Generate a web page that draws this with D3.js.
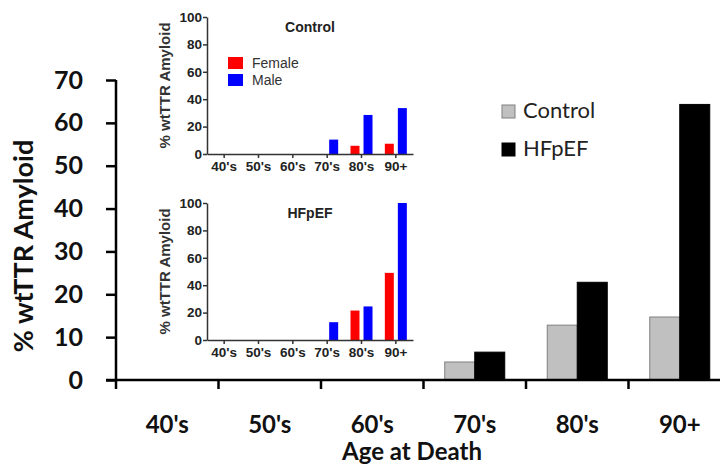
<!DOCTYPE html>
<html lang="en">
<head>
    <meta charset="UTF-8">
    <title>wtTTR Amyloid by Age at Death</title>
    <script src="https://cdnjs.cloudflare.com/ajax/libs/d3/7.8.5/d3.min.js"></script>
    <style>
        body {
            margin: 0;
            background-color: white;
        }
        svg {
            display: block;
        }
    </style>
</head>
<body>
    <div id="plot"></div>

    <script>
        // Main chart data
        const ages = ["40's", "50's", "60's", "70's", "80's", "90+"];
        const controlPct = [0, 0, 0, 4.2, 12.8, 14.7];
        const hfpefPct = [0, 0, 0, 6.5, 22.8, 64.3];
        const mainTicks = [0, 10, 20, 30, 40, 50, 60, 70];

        // Inset data (by sex)
        const controlFemale = [0, 0, 0, 0, 6, 7.5];
        const controlMale = [0, 0, 0, 10.5, 28.5, 33.5];
        const hfpefFemale = [0, 0, 0, 0, 21.5, 49];
        const hfpefMale = [0, 0, 0, 13, 24.5, 100];
        const insetTicks = [0, 20, 40, 60, 80, 100];

        const width = 720, height = 465;

        const svg = d3.select("#plot")
            .append("svg")
                .attr("width", width)
                .attr("height", height);

        // ---------- main chart ----------
        const mainFont = "Lato, 'Open Sans', sans-serif";

        const x = d3.scaleBand()
            .domain(ages)
            .range([116, 731]);

        const y = d3.scaleLinear()
            .domain([0, 70])
            .range([380, 80]);

        const sub = d3.scaleBand()
            .domain(["Control", "HFpEF"])
            .range([-30, 30]);

        const mainData = ages.map((a, i) => ({age: a, Control: controlPct[i], HFpEF: hfpefPct[i]}));

        // Bars
        const groups = svg.append("g")
            .selectAll("g")
            .data(mainData)
            .join("g")
                .attr("transform", d => `translate(${x(d.age) + x.bandwidth() / 2},0)`);

        groups.selectAll("rect")
            .data(d => ["Control", "HFpEF"].map(k => ({key: k, value: d[k]})))
            .join("rect")
                .attr("x", d => sub(d.key))
                .attr("width", sub.bandwidth())
                .attr("y", d => y(d.value))
                .attr("height", d => y(0) - y(d.value))
                .attr("fill", d => d.key === "Control" ? "#c0c0c0" : "#000")
                .attr("stroke", d => d.key === "Control" ? "#808080" : "#000")
                .attr("stroke-width", 1);

        // Y axis
        const yAxis = svg.append("g")
            .attr("transform", "translate(116,0)")
            .call(d3.axisLeft(y)
                .tickValues(mainTicks)
                .tickSize(10)
                .tickPadding(23)
                .tickSizeOuter(0));
        yAxis.select(".domain").remove();
        yAxis.selectAll("line").attr("stroke", "#000").attr("stroke-width", 2.5);
        yAxis.selectAll("text")
            .attr("font-family", mainFont)
            .attr("font-weight", "bold")
            .attr("font-size", 25)
            .attr("fill", "#111");

        // axis lines
        svg.append("line")
            .attr("x1", 116).attr("x2", 116)
            .attr("y1", y(70)).attr("y2", 389)
            .attr("stroke", "#000").attr("stroke-width", 2.5);
        svg.append("line")
            .attr("x1", 106).attr("x2", 720)
            .attr("y1", y(0)).attr("y2", y(0))
            .attr("stroke", "#000").attr("stroke-width", 2.5);

        // X ticks at band boundaries
        svg.append("g")
            .selectAll("line")
            .data(ages.slice(1))
            .join("line")
                .attr("x1", d => x(d)).attr("x2", d => x(d))
                .attr("y1", y(0)).attr("y2", y(0) + 9)
                .attr("stroke", "#000").attr("stroke-width", 2.5);

        // X labels
        const xAxis = svg.append("g")
            .attr("transform", `translate(0,${y(0)})`)
            .call(d3.axisBottom(x).tickSize(0).tickPadding(36));
        xAxis.select(".domain").remove();
        xAxis.selectAll("text")
            .attr("font-family", mainFont)
            .attr("font-weight", "bold")
            .attr("font-size", 24)
            .attr("fill", "#111");

        // Axis titles
        svg.append("text")
            .attr("x", 412)
            .attr("y", 460)
            .attr("text-anchor", "middle")
            .attr("font-family", mainFont)
            .attr("font-weight", "bold")
            .attr("font-size", 24)
            .attr("fill", "#111")
            .text("Age at Death");

        svg.append("text")
            .attr("transform", "translate(33,246) rotate(-90)")
            .attr("text-anchor", "middle")
            .attr("font-family", mainFont)
            .attr("font-weight", "bold")
            .attr("font-size", 27)
            .attr("fill", "#111")
            .text("% wtTTR Amyloid");

        // Legend
        const legend = svg.append("g")
            .selectAll("g")
            .data([{k: "Control", fill: "#c0c0c0", stroke: "#808080"}, {k: "HFpEF", fill: "#000", stroke: "#000"}])
            .join("g")
                .attr("transform", (d, i) => `translate(502,${105 + i * 38})`);
        legend.append("rect")
            .attr("width", 13).attr("height", 13)
            .attr("fill", d => d.fill)
            .attr("stroke", d => d.stroke);
        legend.append("text")
            .attr("x", 21)
            .attr("y", 13)
            .attr("font-family", mainFont)
            .attr("font-size", 22)
            .attr("fill", "#222")
            .text(d => d.k);

        // ---------- insets ----------
        const insetFont = "'Liberation Sans', Arial, sans-serif";

        function drawInset(title, female, male, top, bottom, showLegend) {
            const g = svg.append("g");

            const ix = d3.scaleBand()
                .domain(ages)
                .range([207, 413]);

            const iy = d3.scaleLinear()
                .domain([0, 100])
                .range([bottom, top]);

            const isub = d3.scaleBand()
                .domain(["Female", "Male"])
                .range([-11, 11])
                .paddingInner(0.31);

            const rows = ages.map((a, i) => ({age: a, Female: female[i], Male: male[i]}));

            g.append("g")
                .selectAll("g")
                .data(rows)
                .join("g")
                    .attr("transform", d => `translate(${ix(d.age) + ix.bandwidth() / 2},0)`)
                .selectAll("rect")
                .data(d => ["Female", "Male"].map(k => ({key: k, value: d[k]})))
                .join("rect")
                    .attr("x", d => isub(d.key))
                    .attr("width", isub.bandwidth())
                    .attr("y", d => iy(d.value))
                    .attr("height", d => iy(0) - iy(d.value))
                    .attr("fill", d => d.key === "Female" ? "#ff0000" : "#0000ff");

            const ya = g.append("g")
                .attr("transform", "translate(207,0)")
                .call(d3.axisLeft(iy)
                    .tickValues(insetTicks)
                    .tickSize(4)
                    .tickPadding(1)
                    .tickSizeOuter(0));
            ya.select(".domain").attr("stroke", "#333").attr("stroke-width", 1.5);
            ya.selectAll("line").attr("stroke", "#333").attr("stroke-width", 1.5);
            ya.selectAll("text")
                .attr("font-family", insetFont)
                .attr("font-weight", "bold")
                .attr("font-size", 13.5)
                .attr("fill", "#222");

            const xa = g.append("g")
                .attr("transform", `translate(0,${bottom})`)
                .call(d3.axisBottom(ix)
                    .tickSize(4)
                    .tickPadding(3)
                    .tickSizeOuter(0));
            xa.select(".domain").attr("stroke", "#333").attr("stroke-width", 1.5);
            xa.selectAll("line").attr("stroke", "#333").attr("stroke-width", 1.5);
            xa.selectAll("text")
                .attr("font-family", insetFont)
                .attr("font-weight", "bold")
                .attr("font-size", 13.5)
                .attr("fill", "#222");

            g.append("text")
                .attr("transform", `translate(170,${(top + bottom) / 2}) rotate(-90)`)
                .attr("text-anchor", "middle")
                .attr("font-family", insetFont)
                .attr("font-weight", "bold")
                .attr("font-size", 15)
                .attr("fill", "#333")
                .text("% wtTTR Amyloid");

            g.append("text")
                .attr("x", 310)
                .attr("y", top + 15)
                .attr("text-anchor", "middle")
                .attr("font-family", insetFont)
                .attr("font-weight", "bold")
                .attr("font-size", 14)
                .attr("fill", "#222")
                .text(title);

            if (showLegend) {
                const lg = g.append("g")
                    .selectAll("g")
                    .data([{k: "Female", c: "#ff0000"}, {k: "Male", c: "#0000ff"}])
                    .join("g")
                        .attr("transform", (d, i) => `translate(228,${top + 40 + i * 17})`);
                lg.append("rect")
                    .attr("width", 15).attr("height", 12)
                    .attr("fill", d => d.c);
                lg.append("text")
                    .attr("x", 24)
                    .attr("y", 11)
                    .attr("font-family", insetFont)
                    .attr("font-size", 14)
                    .attr("fill", "#333")
                    .text(d => d.k);
            }
        }

        drawInset("Control", controlFemale, controlMale, 17, 154, true);
        drawInset("HFpEF", hfpefFemale, hfpefMale, 203, 340, false);
    </script>
</body>
</html>
